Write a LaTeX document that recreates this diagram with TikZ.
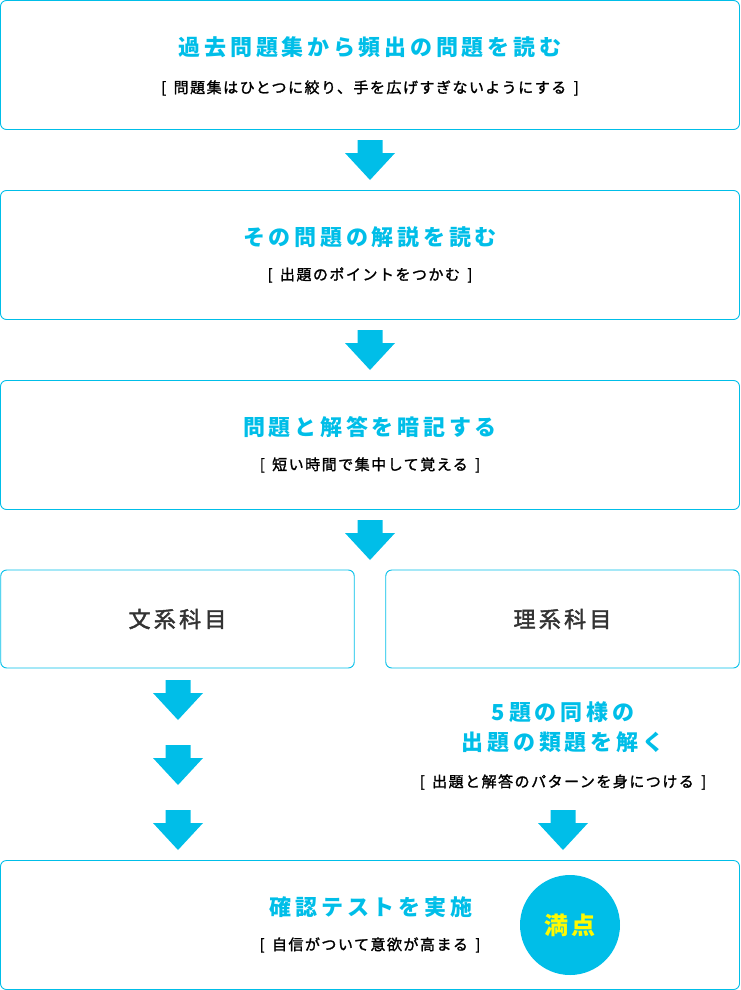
\documentclass[tikz,border=0pt]{standalone}
\usepackage{fontspec}
\setmainfont{Noto Sans CJK JP}
\usepackage{tikz}
\usepackage{xcolor}
\usetikzlibrary{positioning}
\definecolor{cBlue}{RGB}{0,190,232}
\definecolor{cText}{RGB}{51,51,51}
\definecolor{cYellow}{RGB}{255,250,0}
\tikzset{
	panel/.style   ={rectangle, rounded corners=6pt, draw=cBlue, line width=0.9pt, inner sep=0pt},
	title/.style   ={text=cBlue, font=\fontsize{22}{30}\selectfont\bfseries\addfontfeature{LetterSpace=17}, align=center},
	subtitle/.style={text=black, font=\fontsize{15}{18}\selectfont\addfontfeature{LetterSpace=10,FakeBold=1.5}},
	subject/.style ={text=cText, font=\fontsize{22}{26}\selectfont\addfontfeature{LetterSpace=15,FakeBold=2}},
	badge/.style   ={circle, fill=cBlue, minimum size=100pt, inner sep=0pt, text=cYellow, font=\fontsize{24}{26}\selectfont\bfseries\addfontfeature{LetterSpace=15}},
}
% block arrow pointing down, #1 = top centre
\newcommand{\bigarrow}[1]{%
	\fill[cBlue] #1 ++(-12.5,0) -- ++(25,0) -- ++(0,13) -- ++(12.5,0) -- ++(-25,27) -- ++(-25,-27) -- ++(12.5,0) -- cycle;}

\begin{document}
\begin{tikzpicture}[x=1pt, y=-1pt]
	\useasboundingbox (0,0) rectangle (740,990);
	% ---------------- step 1 ----------------
	\node[panel, minimum width=739pt, minimum height=129pt] (read) at (370,65) {};
	\node[title] (readT) at (370,47) {過去問題集から頻出の問題を読む};
	\node[subtitle] (readS) at (370,88) {[\, 問題集はひとつに絞り、手を広げすぎないようにする \,]};
	\bigarrow{(370,140)}
	% ---------------- step 2 ----------------
	\node[panel, minimum width=739pt, minimum height=129pt] (expl) at (370,255) {};
	\node[title] (explT) at (370,237) {その問題の解説を読む};
	\node[subtitle] (explS) at (370,275) {[\, 出題のポイントをつかむ \,]};
	\bigarrow{(370,330)}
	% ---------------- step 3 ----------------
	\node[panel, minimum width=739pt, minimum height=129pt] (memo) at (370,445) {};
	\node[title] (memoT) at (370,427) {問題と解答を暗記する};
	\node[subtitle] (memoS) at (370,465) {[\, 短い時間で集中して覚える \,]};
	\bigarrow{(370,520)}
	% ---------------- subjects ----------------
	\node[panel, minimum width=353.5pt, minimum height=98pt] (bun) at (177.5,619) {};
	\node[subject] (bunT) at (bun) {文系科目};
	\node[panel, minimum width=353.5pt, minimum height=98pt] (ri) at (562.5,619) {};
	\node[subject] (riT) at (ri) {理系科目};
	\bigarrow{(178,680)}
	\bigarrow{(178,745)}
	\bigarrow{(178,810)}
	\node[title] (ruiT) at (563,727) {5題の同様の\\出題の類題を解く};
	\node[subtitle] (ruiS) at (563,782) {[\, 出題と解答のパターンを身につける \,]};
	\bigarrow{(563,810)}
	% ---------------- test ----------------
	\node[panel, minimum width=739pt, minimum height=129pt] (test) at (370,925) {};
	\node[title] (testT) at (371,907) {確認テストを実施};
	\node[subtitle] (testS) at (370,945) {[\, 自信がついて意欲が高まる \,]};
	\node[badge] (full) at (570,925) {満点};
\end{tikzpicture}
\end{document}
